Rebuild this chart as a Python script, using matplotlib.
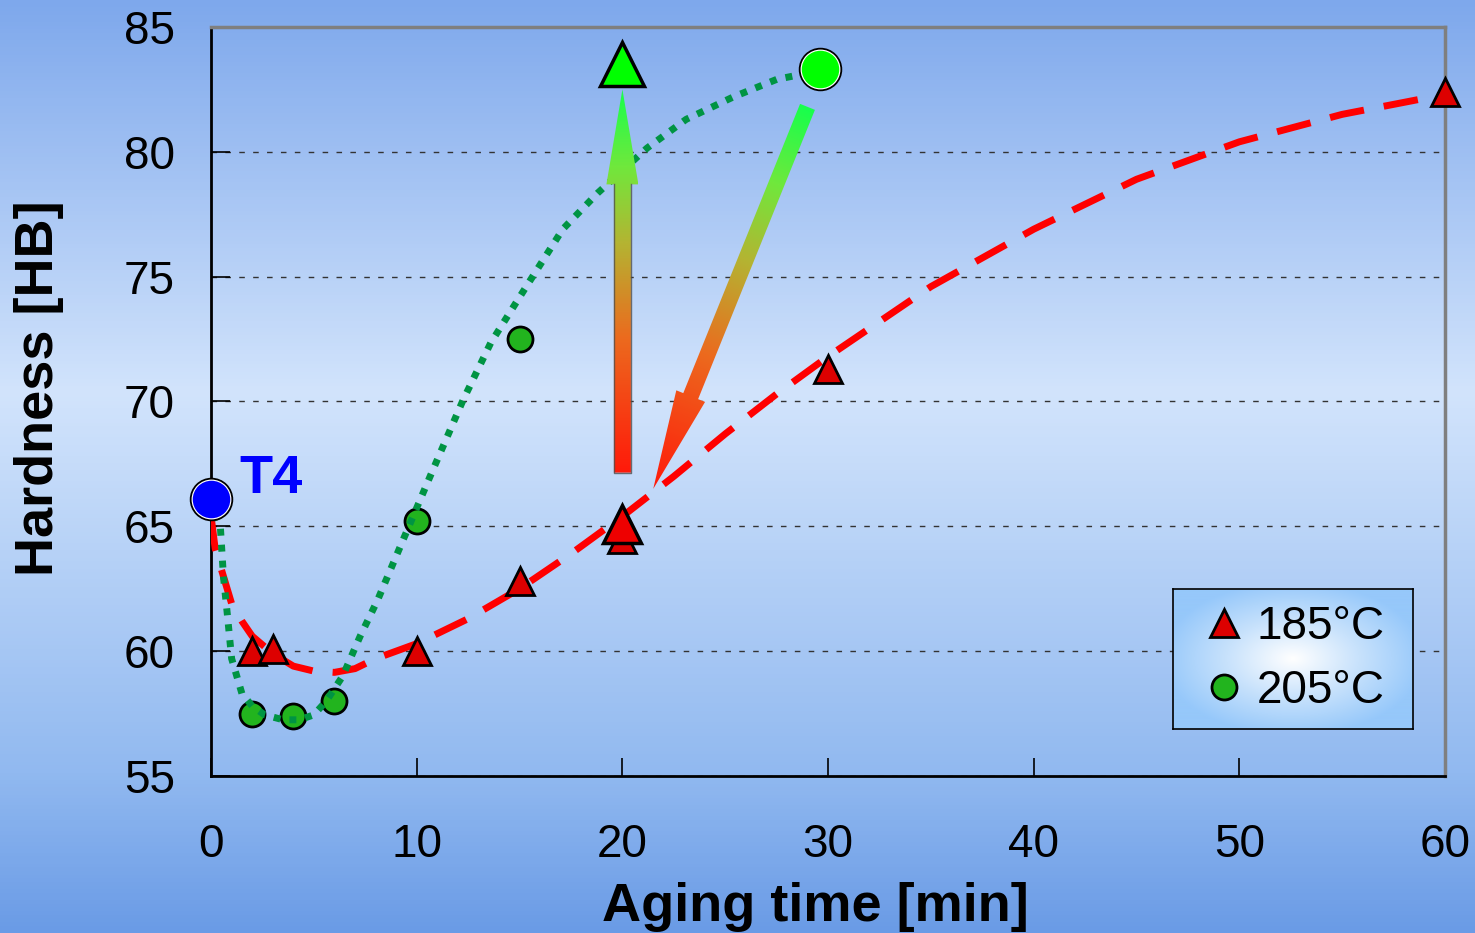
import numpy as np
import matplotlib
matplotlib.use("Agg")
import matplotlib.pyplot as plt
from matplotlib.colors import LinearSegmentedColormap
from matplotlib.lines import Line2D
from matplotlib.patches import Polygon

plt.rcParams["font.family"] = ["Liberation Sans", "DejaVu Sans"]

# measured hardness after aging at 185 degC
t_185 = [2, 3, 10, 15, 20, 30, 60]
hb_185 = [60.0, 60.1, 60.0, 62.8, 64.5, 71.3, 82.4]

# measured hardness after aging at 205 degC
t_205 = [2, 4, 6, 10, 15]
hb_205 = [57.5, 57.4, 58.0, 65.2, 72.5]

# starting T4 state
t_t4, hb_t4 = 0, 66.1

# highlighted points
peak_205 = (29.6, 83.3)
point_185_20 = (20, 65.1)
target_185_20 = (20, 83.5)

# trend curves
trend_185_t = [0, 0.2, 0.6, 1, 1.5, 2, 3, 4, 5, 6, 7, 8, 10, 12.5, 15, 17.5,
               20, 22.5, 25, 27.5, 30, 35, 40, 45, 50, 55, 60]
trend_185_hb = [65.4, 64.1, 63.0, 61.9, 61.2, 60.6, 59.9, 59.4, 59.2, 59.15,
                59.3, 59.7, 60.3, 61.3, 62.5, 63.9, 65.4, 67.0, 68.7, 70.3,
                71.8, 74.6, 76.9, 78.9, 80.4, 81.5, 82.3]

trend_205_t = [0.2, 0.45, 0.6, 0.8, 1.0, 1.5, 2.0, 2.6, 3.5, 4.3, 5.0, 5.6,
               6.4, 7.25, 8.1, 9.05, 10.65, 12.25, 13.6, 14.9, 17.1, 18.8,
               21.2, 23.1, 25.4, 27.5, 29.3]
trend_205_hb = [65.5, 65.0, 63.0, 61.4, 59.7, 58.3, 57.8, 57.45, 57.25, 57.25,
                57.45, 58.0, 59.0, 60.6, 62.05, 63.9, 67.0, 70.05, 72.35, 74.05,
                76.9, 78.35, 80.15, 81.3, 82.2, 82.9, 83.2]

# arrows (start, tip)
arrow_up = ((20, 67.15), (20, 82.5))
arrow_down = ((29.0, 81.8), (21.5, 66.5))

x_ticks = [0, 10, 20, 30, 40, 50, 60]
y_ticks = [55, 60, 65, 70, 75, 80, 85]

arrow_cmap = LinearSegmentedColormap.from_list(
    "heat_to_green",
    [(0.0, "#ff1a0a"), (0.35, "#ec6a1e"), (0.6, "#b4b432"), (0.8, "#70e83c"), (1.0, "#18ff4c")])


def gradient_arrow(ax, start, end, shaft, head_w, head_len, reverse=False,
                   outline=False, zorder=6):
    # build the arrow outline in pixels so widths stay constant
    p0 = ax.transData.transform(start)
    p1 = ax.transData.transform(end)
    v = p1 - p0
    L = np.hypot(*v)
    d = v / L
    n = np.array([-d[1], d[0]])
    hb = p1 - d * head_len
    verts = np.array([p0 + n * shaft / 2, hb + n * shaft / 2, hb + n * head_w / 2, p1,
                      hb - n * head_w / 2, hb - n * shaft / 2, p0 - n * shaft / 2])
    inv = ax.transData.inverted()
    data_verts = inv.transform(verts)

    xmin, ymin = verts.min(0)
    xmax, ymax = verts.max(0)
    gx, gy = np.meshgrid(np.linspace(xmin, xmax, int(xmax - xmin) + 2),
                         np.linspace(ymin, ymax, int(ymax - ymin) + 2))
    t = ((gx - p0[0]) * d[0] + (gy - p0[1]) * d[1]) / L
    if reverse:
        t = 1 - t
    (x0, y0), (x1, y1) = inv.transform([(xmin, ymin), (xmax, ymax)])
    im = ax.imshow(t, cmap=arrow_cmap, vmin=0, vmax=1, extent=(x0, x1, y0, y1),
                   origin="lower", aspect="auto", interpolation="bilinear", zorder=zorder)
    clip = Polygon(data_verts, closed=True, transform=ax.transData,
                   facecolor="none", edgecolor="none")
    im.set_clip_path(clip)
    if outline:
        sv = data_verts[[1, 0, 6, 5]]
        ax.plot(sv[:, 0], sv[:, 1], color="#505050", lw=1.0, alpha=0.8, zorder=zorder)


fig = plt.figure(figsize=(14.75, 9.33), dpi=100)

# blue page background
bg = fig.add_axes([0, 0, 1, 1], zorder=0)
bg.axis("off")
bg_cmap = LinearSegmentedColormap.from_list(
    "page",
    [(0.0, "#6a9be6"), (0.17, "#91b9f0"), (0.58, "#d2e4fc"), (1.0, "#7ea8ec")])
bg.imshow(np.linspace(0, 1, 256).reshape(-1, 1), cmap=bg_cmap, aspect="auto",
          extent=(0, 1, 0, 1), origin="lower")

ax = fig.add_axes([0.1431, 0.1683, 0.8366, 0.8028], zorder=1)
ax.set_facecolor("none")
ax.set_xlim(0, 60)
ax.set_ylim(55, 85)
ax.set_xticks(x_ticks)
ax.set_yticks(y_ticks)

for side in ["left", "bottom"]:
    ax.spines[side].set_color("black")
    ax.spines[side].set_linewidth(2)
for side in ["top", "right"]:
    ax.spines[side].set_color("#7f7f7f")
    ax.spines[side].set_linewidth(2.5)

ax.yaxis.grid(True, linestyle=(0, (4, 6)), color="#333333", lw=1)
ax.tick_params(axis="x", direction="in", length=13, width=1.2, labelsize=33, pad=34)
ax.tick_params(axis="y", direction="in", length=14, width=1.2, labelsize=33, pad=26)

ax.set_xlabel("Aging time [min]", fontsize=39, fontweight="bold")
ax.xaxis.set_label_coords(0.49, -0.141)
ax.set_ylabel("Hardness [HB]", fontsize=39, fontweight="bold")
ax.yaxis.set_label_coords(-0.119, 0.518)

# trend lines
ax.plot(trend_185_t, trend_185_hb, color="#ff0000", lw=5, dashes=(5.0, 2.9), zorder=3)
ax.plot(trend_205_t, trend_205_hb, color="#009443", lw=5, dashes=(1.0, 1.3), zorder=5)

# measurements
ax.plot(t_185, hb_185, ls="none", marker="^", ms=20, mfc="#dd0000", mec="black",
        mew=2, zorder=4, clip_on=False)
ax.plot(t_205, hb_205, ls="none", marker="o", ms=18, mfc="#22b41e", mec="black",
        mew=2, zorder=4, clip_on=False)

gradient_arrow(ax, *arrow_up, shaft=17, head_w=32, head_len=95, outline=True)
gradient_arrow(ax, *arrow_down, shaft=16, head_w=31, head_len=100, reverse=True)

ax.plot(*point_185_20, marker="^", ms=28, mfc="#ee0000", mec="black", mew=2.5, zorder=7)
ax.plot(*target_185_20, marker="^", ms=31, mfc="#00ff00", mec="black", mew=2.5, zorder=7)
for (tx, hy), fc in [(peak_205, "#00ff00"), ((t_t4, hb_t4), "#0000ff")]:
    ax.plot(tx, hy, marker="o", ms=30, mfc="white", mec="black", mew=1.3, zorder=7,
            clip_on=False)
    ax.plot(tx, hy, marker="o", ms=27, mfc=fc, mec="none", zorder=7, clip_on=False)

ax.text(1.4, 66.35, "T4", color="#0000ff", fontsize=39, fontweight="bold",
        ha="left", va="baseline", zorder=8)

# legend box with a soft radial fill
leg_ax = fig.add_axes([0.7953, 0.2186, 0.1627, 0.1501], zorder=3)
yy, xx = np.mgrid[-1:1:140j, -1:1:240j]
r = np.clip(np.hypot(xx, yy) / 1.1, 0, 1)
leg_cmap = LinearSegmentedColormap.from_list("glow", ["#ffffff", "#c8e2fc", "#96c8fa"])
leg_ax.imshow(r, cmap=leg_cmap, vmin=0, vmax=1, aspect="auto", extent=(0, 1, 0, 1))
leg_ax.set_xticks([])
leg_ax.set_yticks([])
for s in leg_ax.spines.values():
    s.set_color("black")
    s.set_linewidth(1.2)
handles = [
    Line2D([], [], ls="none", marker="^", ms=20, mfc="#dd0000", mec="black", mew=2, label="185°C"),
    Line2D([], [], ls="none", marker="o", ms=18, mfc="#22b41e", mec="black", mew=2, label="205°C"),
]
leg_ax.legend(handles=handles, loc="center", frameon=False, fontsize=33,
              handlelength=1.0, handletextpad=0.2, labelspacing=0.42, borderpad=0)

fig.savefig("out.png", dpi=100)
